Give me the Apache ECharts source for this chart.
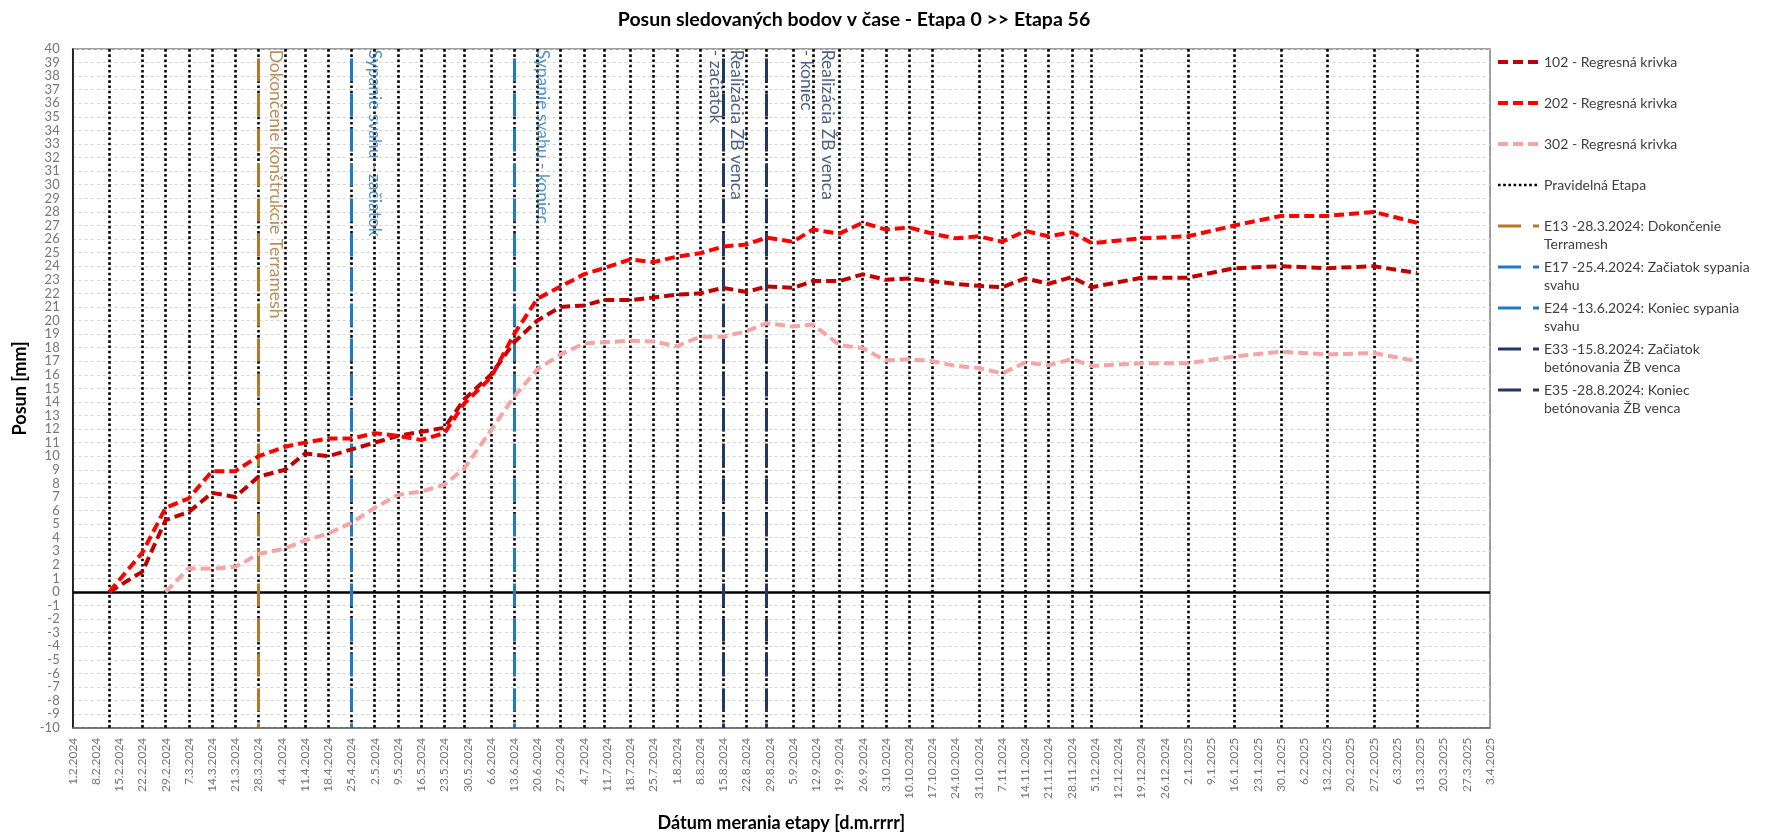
<!DOCTYPE html>
<html><head><meta charset="utf-8">
<script src="https://cdn.jsdelivr.net/npm/echarts@6/dist/echarts.min.js"></script>
<style>html,body{margin:0;padding:0;background:#fff}#c{width:1765px;height:838px}</style>
</head><body><div id="c"></div>
<script>
// ---- DATA ----
const axisStart = '1.2.2024';
const axisEnd = '3.4.2025';
const regularDates = ['12.2.2024','22.2.2024','29.2.2024','7.3.2024','14.3.2024','21.3.2024','28.3.2024','5.4.2024','11.4.2024','18.4.2024','25.4.2024','2.5.2024','9.5.2024','16.5.2024','23.5.2024','29.5.2024','6.6.2024','13.6.2024','20.6.2024','27.6.2024','4.7.2024','10.7.2024','18.7.2024','25.7.2024','1.8.2024','8.8.2024','15.8.2024','22.8.2024','28.8.2024','5.9.2024','11.9.2024','19.9.2024','26.9.2024','3.10.2024','10.10.2024','17.10.2024','31.10.2024','7.11.2024','14.11.2024','21.11.2024','28.11.2024','4.12.2024','19.12.2024','2.1.2025','16.1.2025','30.1.2025','13.2.2025','27.2.2025','12.3.2025'];
const measureDates = ['12.2.2024','22.2.2024','29.2.2024','7.3.2024','14.3.2024','21.3.2024','28.3.2024','5.4.2024','11.4.2024','18.4.2024','25.4.2024','2.5.2024','9.5.2024','16.5.2024','23.5.2024','29.5.2024','6.6.2024','13.6.2024','20.6.2024','27.6.2024','4.7.2024','10.7.2024','18.7.2024','25.7.2024','1.8.2024','8.8.2024','15.8.2024','22.8.2024','28.8.2024','5.9.2024','11.9.2024','19.9.2024','26.9.2024','3.10.2024','10.10.2024','17.10.2024','24.10.2024','31.10.2024','7.11.2024','14.11.2024','21.11.2024','28.11.2024','4.12.2024','19.12.2024','2.1.2025','16.1.2025','30.1.2025','13.2.2025','27.2.2025','12.3.2025'];
const values102 = [0,1.5,5.3,5.9,7.3,7.0,8.5,9.0,10.2,10.0,10.5,11.0,11.5,11.8,12.1,14.2,16.0,18.4,20.0,21.0,21.1,21.5,21.5,21.7,21.9,22.0,22.4,22.1,22.5,22.4,22.9,22.9,23.4,23.0,23.1,22.9,22.7,22.55,22.45,23.1,22.7,23.2,22.45,23.15,23.15,23.85,24.0,23.85,24.0,23.5];
const values202 = [0,2.9,6.2,6.9,8.9,8.9,10.0,10.7,11.0,11.3,11.3,11.7,11.5,11.2,11.7,13.9,15.8,19.0,21.6,22.5,23.4,23.85,24.5,24.3,24.7,24.95,25.45,25.6,26.1,25.8,26.7,26.4,27.2,26.7,26.85,26.4,26.05,26.2,25.8,26.6,26.2,26.5,25.7,26.05,26.2,27.0,27.7,27.7,28.0,27.2];
const values302 = [null,null,0,1.75,1.7,1.85,2.8,3.2,3.8,4.3,5.1,6.2,7.15,7.4,7.9,9.1,11.9,14.4,16.4,17.5,18.3,18.4,18.5,18.45,18.1,18.8,18.8,19.2,19.8,19.55,19.7,18.2,17.95,17.05,17.15,17.0,16.65,16.5,16.1,16.9,16.7,17.15,16.65,16.85,16.85,17.35,17.7,17.5,17.6,17.0];
const seriesNames = ['102 - Regresná krivka','202 - Regresná krivka','302 - Regresná krivka'];
const regularName = 'Pravidelná Etapa';
const eventDates = ['28.3.2024','25.4.2024','13.6.2024','15.8.2024','28.8.2024'];
const eventNames = ['E13 -28.3.2024: Dokončenie Terramesh','E17 -25.4.2024: Začiatok sypania svahu','E24 -13.6.2024: Koniec sypania svahu','E33 -15.8.2024: Začiatok betónovania ŽB venca','E35 -28.8.2024: Koniec betónovania ŽB venca'];
const eventLegendText = ['E13 -28.3.2024: Dokončenie\nTerramesh','E17 -25.4.2024: Začiatok sypania\nsvahu','E24 -13.6.2024: Koniec sypania\nsvahu','E33 -15.8.2024: Začiatok\nbetónovania ŽB venca','E35 -28.8.2024: Koniec\nbetónovania ŽB venca'];
const eventLabels = ['Dokončenie konštrukcie Terramesh','Sypanie svahu - začiatok','Sypanie svahu - koniec','Realizácia ŽB venca\n- začiatok','Realizácia ŽB venca\n- koniec'];
const yMin = -10, yMax = 40, yStep = 1;
const eventTop = 39.3;
const labelTop = 39.95;

// ---- helpers ----
const DAY = 86400000;
function parseD(s){const p=s.split('.').map(Number);return Date.UTC(p[2],p[1]-1,p[0]);}
const t0 = parseD(axisStart);
function dayNum(s){return Math.round((parseD(s)-t0)/DAY);}
function fmtDay(v){const d=new Date(t0+v*DAY);return d.getUTCDate()+'.'+(d.getUTCMonth()+1)+'.'+d.getUTCFullYear();}

// ---- styles ----
const FONT = 'Lato';
const lineColors = ['#C00000','#FF0000','#F6A5A5'];
const eventColors = ['#B5772A','#1F7BC1','#1F7BC1','#1F3864','#1F3864'];
const eventTextColors = ['#A8732F','#2A78BA','#2A78BA','#1F3864','#1F3864'];
const labelShift = [17, 23, 28, 3, 51];
const dottedStyle = {color:'#000', width:2.6, type:[2.6,2.6]};

const series = [];
series.push({
  name: regularName, type:'line', data:[], lineStyle: dottedStyle, itemStyle:{color:'#000'}, symbol:'none', z:1,
  markLine:{silent:true, symbol:['none','none'], label:{show:false}, lineStyle: dottedStyle,
    data: regularDates.map(d=>({xAxis: dayNum(d)}))}
});
series.push({
  name:'zero', type:'line', data:[], symbol:'none', z:2,
  markLine:{silent:true, symbol:['none','none'], label:{show:false}, lineStyle:{color:'#000', width:2.6, type:'solid'},
    data:[{yAxis:0}]}
});
eventDates.forEach((d,i)=>{
  const ls = {color:eventColors[i], width:3, type:[23,12]};
  series.push({
    name:eventNames[i], type:'line', data:[], symbol:'none', lineStyle:ls, itemStyle:{color:eventColors[i]}, z:3,
    markLine:{silent:true, symbol:['none','none'], label:{show:false}, lineStyle:ls,
      data:[[{coord:[dayNum(d), eventTop]},{coord:[dayNum(d), yMin]}]]}
  });
});
[values102, values202, values302].forEach((vals,i)=>{
  series.push({
    name: seriesNames[i], type:'line', symbol:'none', showSymbol:false, z:5,
    lineStyle:{color:lineColors[i], width:4, type:[10,5]},
    itemStyle:{color:lineColors[i]},
    data: measureDates.map((d,k)=>[dayNum(d), vals[k]]),
    connectNulls:false
  });
});
series.push({
  name:'labels', type:'scatter', symbolSize:0, z:6, silent:true,
  data: eventDates.map((d,i)=>({value:[dayNum(d), labelTop],
    label:{color:eventTextColors[i], offset:[0,-labelShift[i]]}})),
  label:{show:true, position:'inside', rotate:-90, align:'left', verticalAlign:'middle',
    fontFamily:FONT, fontSize:17.5, lineHeight:21,
    formatter:(p)=>eventLabels[p.dataIndex]}
});

const legendMap = {};
seriesNames.forEach(n=>legendMap[n]=n);
legendMap[regularName]=regularName;
eventNames.forEach((n,i)=>legendMap[n]=eventLegendText[i]);

const chart = echarts.init(document.getElementById('c'));
chart.setOption({
  animation:false,
  backgroundColor:'#fff',
  title:{text:'Posun sledovaných bodov v čase - Etapa 0 >> Etapa 56', left:849, textAlign:'center', top:5,
    textStyle:{fontFamily:FONT, fontSize:19.5, fontWeight:'bold', color:'#000'}},
  legend:{orient:'vertical', left:1496, top:35, padding:0, itemWidth:41, itemHeight:14, itemGap:-13,
    data:[...seriesNames, regularName, ...eventNames],
    formatter:(n)=>'\n'+legendMap[n]+(legendMap[n].indexOf('\n')>=0?'':'\n '),
    itemStyle:{opacity:0},
    lineStyle:{width:'inherit'},
    textStyle:{fontFamily:FONT, fontSize:14, color:'#404040', lineHeight:18},
    selectedMode:false},
  grid:{left:72.7, right:275, top:49, bottom:110.3, show:true, borderColor:'#808080', borderWidth:1.5, containLabel:false},
  xAxis:{type:'value', min:0, max:dayNum(axisEnd), interval:7,
    name:'Dátum merania etapy [d.m.rrrr]', nameLocation:'middle', nameGap:86,
    nameTextStyle:{fontFamily:FONT, fontSize:18, fontWeight:'bold', color:'#000'},
    axisLine:{show:true, onZero:false, lineStyle:{color:'#606060', width:1.5}},
    axisTick:{show:false}, splitLine:{show:false},
    axisLabel:{rotate:90, margin:10, fontFamily:FONT, fontSize:12, color:'#777', formatter:fmtDay, showMinLabel:true, showMaxLabel:true}},
  yAxis:{type:'value', min:yMin, max:yMax, interval:yStep,
    name:'Posun [mm]', nameLocation:'middle', nameGap:38,
    nameTextStyle:{fontFamily:FONT, fontSize:18, fontWeight:'bold', color:'#000'},
    axisLine:{show:true, lineStyle:{color:'#000', width:1.5}},
    axisTick:{show:false},
    splitLine:{show:true, lineStyle:{color:'#d4d4d4', width:1, type:[3,3]}},
    axisLabel:{margin:13, fontFamily:FONT, fontSize:13, color:'#777'}},
  series: series
});
</script></body></html>
